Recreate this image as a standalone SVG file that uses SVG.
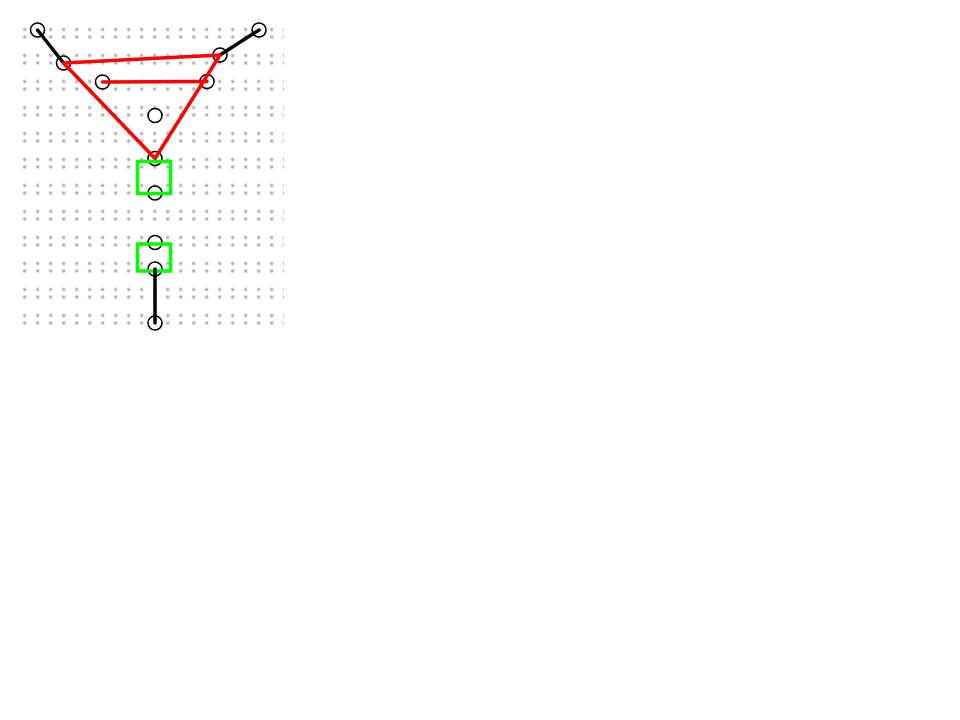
<svg xmlns="http://www.w3.org/2000/svg" width="960" height="720" viewBox="0 0 960 720">
<defs>
<pattern id="dots" x="0" y="0" width="13" height="26" patternUnits="userSpaceOnUse" patternTransform="translate(18.2,23.5)">
<circle cx="6.5" cy="6" r="1.8" fill="#b3b3b3"/>
<circle cx="6.5" cy="13.5" r="1.8" fill="#b3b3b3"/>
</pattern>
<style>
.node{fill:#fff;stroke:#000;stroke-width:1.6}
.box{fill:none;stroke:#00ff00;stroke-width:3.5}
.wire{stroke:#000;stroke-width:3.5;fill:none;stroke-linecap:round}
.red{stroke:#ff0000;stroke-width:3.5;fill:none;stroke-linecap:round;stroke-linejoin:round}
</style>
</defs>
<rect width="960" height="720" fill="#fff"/>
<rect id="grid" x="18" y="23" width="266" height="305" fill="url(#dots)"/>
<g id="nodes">
<g id="n1"><circle class="node" cx="37.5" cy="30" r="7"/></g>
<g id="n2"><circle class="node" cx="63.5" cy="63" r="7"/></g>
<g id="n3"><circle class="node" cx="102.5" cy="82" r="7"/></g>
<g id="n4"><circle class="node" cx="259" cy="30" r="7"/></g>
<g id="n5"><circle class="node" cx="220" cy="55" r="7"/></g>
<g id="n6"><circle class="node" cx="207" cy="81.5" r="7"/></g>
<g id="n7"><circle class="node" cx="155" cy="115.5" r="7"/></g>
<g id="n8"><circle class="node" cx="155" cy="158.5" r="7"/></g>
<g id="n9"><circle class="node" cx="155" cy="193" r="7"/></g>
<g id="n10"><circle class="node" cx="155" cy="242.5" r="7"/></g>
<g id="n11"><circle class="node" cx="155" cy="269" r="7"/></g>
<g id="n12"><circle class="node" cx="155" cy="323" r="7"/></g>
</g>
<g id="boxes">
<rect id="box1" class="box" x="137.5" y="161.5" width="33" height="32"/>
<rect id="box2" class="box" x="137.5" y="244" width="33" height="27"/>
</g>
<g id="connectors">
<line class="wire" x1="37.5" y1="30" x2="63.5" y2="63"/>
<line class="wire" x1="259" y1="30" x2="220" y2="55"/>
<line class="wire" x1="155" y1="269" x2="155" y2="323"/>
<polyline class="red" points="63.5,63 220,55 155,158.5 63.5,63"/>
<line class="red" x1="102.5" y1="82" x2="207" y2="81.5"/>
</g>
</svg>
